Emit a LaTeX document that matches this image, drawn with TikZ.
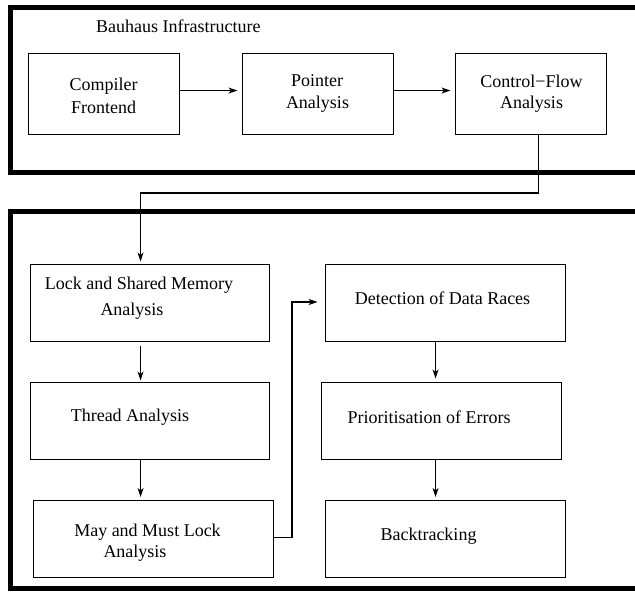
\documentclass[tikz,border=0pt]{standalone}
\usepackage{fontspec}
\setmainfont{Liberation Serif}
\usetikzlibrary{arrows.meta}
\begin{document}
\begin{tikzpicture}[x=1pt,y=-1pt,
  frame/.style={draw, line width=5pt, anchor=north west, inner sep=0pt},
  boxnode/.style={draw, line width=1.1pt, anchor=north west, inner sep=0pt},
  lbl/.style={inner sep=0pt, font=\fontsize{18}{21}\selectfont},
  arr/.style={draw, line width=1.1pt, -{Stealth[length=9pt,width=6pt,inset=2.5pt]}}]
\useasboundingbox (0,0) rectangle (635,593);
% frames
\node[frame, minimum width=650pt, minimum height=165pt] (fa) at (7.5,5.5) {};
\node[frame, minimum width=650pt, minimum height=376.5pt] (fb) at (7.5,209) {};
\node[lbl, anchor=west] (title) at (96,26) {Bauhaus Infrastructure};
% top row
\node[boxnode, minimum width=151pt, minimum height=81pt] (cf) at (28,53) {};
\node[boxnode, minimum width=151pt, minimum height=81pt] (pa) at (242,53) {};
\node[boxnode, minimum width=151pt, minimum height=81pt] (cfa) at (455,53) {};
\node[lbl] (cft1) at (103.5,86) {Compiler};
\node[lbl] (cft2) at (103.5,107) {Frontend};
\node[lbl] (pat1) at (317,81) {Pointer};
\node[lbl] (pat2) at (317.5,104) {Analysis};
\node[lbl] (cfat1) at (531.5,81) {Control−Flow};
\node[lbl] (cfat2) at (531.5,104) {Analysis};
% lower boxes
\node[boxnode, minimum width=239pt, minimum height=77pt] (lsm) at (30,264) {};
\node[boxnode, minimum width=240pt, minimum height=77pt] (dd) at (325,264) {};
\node[boxnode, minimum width=239pt, minimum height=77pt] (th) at (30,382) {};
\node[boxnode, minimum width=240pt, minimum height=77pt] (pe) at (321,382) {};
\node[boxnode, minimum width=240pt, minimum height=77pt] (mm) at (33,500) {};
\node[boxnode, minimum width=240pt, minimum height=77pt] (bt) at (325,500) {};
\node[lbl] (lsmt1) at (139,285) {Lock and Shared Memory};
\node[lbl] (lsmt2) at (132,311) {Analysis};
\node[lbl] (ddt) at (442.5,298) {Detection of Data Races};
\node[lbl] (tht) at (130,417) {Thread Analysis};
\node[lbl] (pet) at (429,417) {Prioritisation of Errors};
\node[lbl] (mmt1) at (147.5,532) {May and Must Lock};
\node[lbl] (mmt2) at (135,553) {Analysis};
\node[lbl] (btt) at (428.5,536) {Backtracking};
% connectors
\draw[arr, shorten >=4.5pt] ([yshift=3.5pt]cf.east) -- ([yshift=3.5pt]pa.west);
\draw[arr, shorten >=4.5pt] ([yshift=3.5pt]pa.east) -- ([yshift=3.5pt]cfa.west);
\coordinate (j1) at (538.5,193);
\draw[arr, shorten >=2.5pt] (cfa.south -| j1) -- (j1) -| ([xshift=-9.5pt]lsm.north);
\draw[arr, shorten <=4pt, shorten >=1.5pt] ([xshift=-9.5pt]lsm.south) -- ([xshift=-9.5pt]th.north);
\draw[arr, shorten >=3pt] ([xshift=-13pt]mm.north |- th.south) -- ([xshift=-13pt]mm.north);
\draw[arr, shorten >=3.5pt] ([xshift=-10pt]dd.south) -- ([xshift=-6pt]pe.north);
\draw[arr, shorten >=3pt] ([xshift=-6pt]pe.south) -- ([xshift=-10pt]bt.north);
\coordinate (j2) at (292,302);
\draw[arr, shorten >=7.5pt] ([yshift=1.5pt]mm.east) -| (j2) -- (dd.west |- j2);
\end{tikzpicture}
\end{document}
